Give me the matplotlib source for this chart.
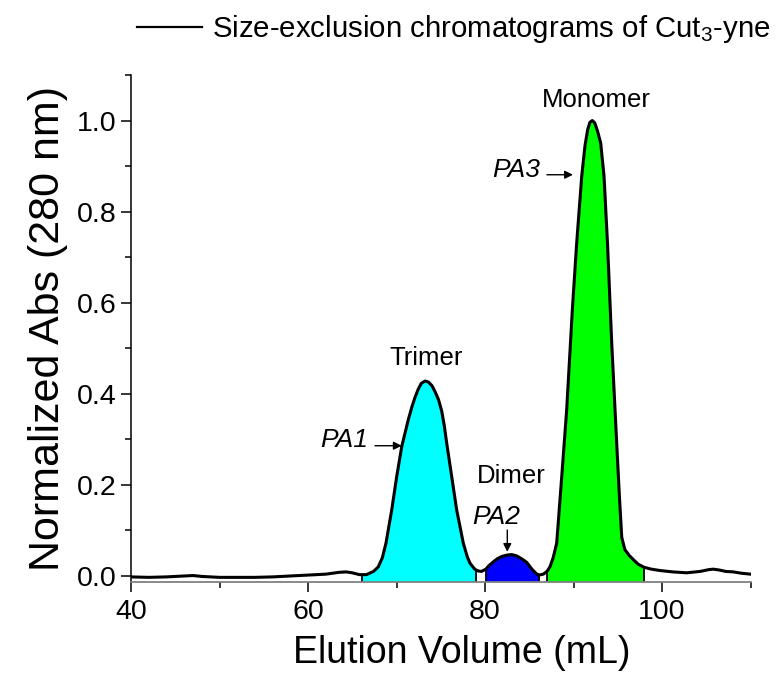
import numpy as np
import matplotlib
matplotlib.use("Agg")
import matplotlib.pyplot as plt
from matplotlib.lines import Line2D

plt.rcParams['font.family'] = ['Liberation Sans', 'DejaVu Sans']
plt.rcParams['mathtext.fontset'] = 'custom'
plt.rcParams['mathtext.rm'] = 'Liberation Sans'
plt.rcParams['mathtext.it'] = 'Liberation Sans:italic'

# Elution volume (mL) and normalized absorbance
volume = [40, 42, 44, 46, 47, 48, 50, 52, 54, 56, 58, 60, 62, 63.5, 64.3, 65.0,
          65.8, 66.1, 66.6, 67.4, 67.94, 68.4, 68.81, 69.46, 70.02, 70.59, 71.33,
          71.75, 72.09, 72.45, 72.8, 73.22, 73.6, 74.0, 74.35, 74.75, 75.11,
          75.4, 75.67, 76.24, 76.8, 77.55, 78.0, 78.31, 78.8, 79.0, 79.24, 79.6,
          80.1, 80.4, 80.94, 81.4, 81.9, 82.5, 83.02, 83.6, 84.2, 84.71, 85.3,
          85.8, 86.1, 86.59, 87.0, 87.34, 87.7, 88.1, 88.67, 89.23, 89.87, 90.36,
          90.93, 91.3, 91.6, 91.85, 92.12, 92.4, 92.7, 93.07, 93.45, 93.84,
          94.32, 94.88, 95.2, 95.45, 95.8, 96.3, 96.76, 97.3, 97.89, 98.0, 98.8,
          99.77, 101.2, 102.79, 104.3, 105.3, 105.8, 106.5, 107.2, 108.06, 109.0,
          110.0]
absorb = [-0.002, -0.003, -0.002, 0.0, 0.001, -0.001, -0.003, -0.003, -0.003,
          -0.002, 0.0, 0.002, 0.004, 0.008, 0.009, 0.007, 0.003, 0.003, 0.003,
          0.010, 0.020, 0.040, 0.072, 0.145, 0.218, 0.284, 0.343, 0.372, 0.392,
          0.410, 0.423, 0.428, 0.426, 0.418, 0.405, 0.387, 0.362, 0.330, 0.292,
          0.218, 0.145, 0.072, 0.042, 0.028, 0.016, 0.013, 0.011, 0.010, 0.015,
          0.022, 0.031, 0.038, 0.043, 0.046, 0.047, 0.044, 0.037, 0.030, 0.015,
          0.005, 0.002, 0.004, 0.010, 0.020, 0.040, 0.072, 0.218, 0.365, 0.585,
          0.731, 0.878, 0.945, 0.980, 0.996, 1.000, 0.995, 0.978, 0.951, 0.878,
          0.731, 0.511, 0.292, 0.170, 0.085, 0.058, 0.045, 0.036, 0.026, 0.020,
          0.019, 0.015, 0.012, 0.009, 0.007, 0.010, 0.014, 0.015, 0.013, 0.010,
          0.009, 0.006, 0.004]

# Integrated regions (start, end, colour)
region_start = [66.1, 80.1, 87.0]
region_end = [79.0, 86.1, 98.0]
region_color = ['#00FFFF', '#0000FF', '#00FF00']

peak_names = ['Trimer', 'Dimer', 'Monomer']
peak_name_pos = [(73.33, 0.479), (82.94, 0.22), (92.54, 1.046)]
pa_labels = ['PA1', 'PA2', 'PA3']

x = np.array(volume)
y = np.array(absorb)
ybot = -0.0132

fig = plt.figure(figsize=(7.79, 6.75), dpi=100)
ax = fig.add_axes([131/779, 1-582/675, (750.5-131)/779, (582-75)/675])

for a, b, c in zip(region_start, region_end, region_color):
    m = (x >= a) & (x <= b)
    ax.fill_between(x[m], ybot, y[m], facecolor=c, edgecolor='none', zorder=1)
    ax.vlines([a, b], ybot, [y[x == a][0], y[x == b][0]], colors='black',
              linewidth=1.3, zorder=2)

line, = ax.plot(x, y, color='black', linewidth=2.2, zorder=3,
                solid_joinstyle='round')

ax.set_xlim(40, 110)
ax.set_ylim(ybot, 1.1)
ax.set_xticks([40, 60, 80, 100])
ax.set_xticks([50, 70, 90, 110], minor=True)
ax.set_yticks([0.0, 0.2, 0.4, 0.6, 0.8, 1.0])
ax.set_yticks([0.1, 0.3, 0.5, 0.7, 0.9, 1.1], minor=True)
ax.yaxis.set_major_formatter(matplotlib.ticker.FormatStrFormatter('%.1f'))
ax.tick_params(which='major', direction='out', length=7.5, width=1.1,
               labelsize=20.5, pad=3)
ax.tick_params(which='minor', direction='out', length=4, width=1.1)
ax.tick_params(axis='x', which='major', pad=5)
for s in ['top', 'right']:
    ax.spines[s].set_visible(False)
ax.spines['left'].set_linewidth(1.1)
ax.spines['bottom'].set_linewidth(1.3)
ax.spines['bottom'].set_color('#808080')

ax.set_xlabel('Elution Volume (mL)', fontsize=27)
ax.xaxis.set_label_coords(0.534, -0.105)
ax.set_ylabel('Normalized Abs (280 nm)', fontsize=31, labelpad=6)

for name, (px, py) in zip(peak_names, peak_name_pos):
    ax.text(px, py, name, fontsize=18.5, ha='center', va='center')

arrowprops = dict(arrowstyle='-|>', color='black', lw=1.0,
                  mutation_scale=12, shrinkA=0, shrinkB=0)
ax.annotate('', xy=(70.59, 0.286), xytext=(67.57, 0.286), arrowprops=arrowprops)
ax.text(64.07, 0.299, pa_labels[0], fontsize=19, style='italic',
        ha='center', va='center')
ax.annotate('', xy=(82.52, 0.053), xytext=(82.52, 0.101), arrowprops=arrowprops)
ax.text(81.24, 0.130, pa_labels[1], fontsize=19, style='italic',
        ha='center', va='center')
ax.annotate('', xy=(89.94, 0.881), xytext=(87.0, 0.881), arrowprops=arrowprops)
ax.text(83.5, 0.892, pa_labels[2], fontsize=19, style='italic',
        ha='center', va='center')

fig.legend(handles=[Line2D([], [], color='black', linewidth=1.6)],
           labels=['Size-exclusion chromatograms of Cut$_3$-yne'],
           loc='upper left', bbox_to_anchor=(131/779, 1 - 7/675),
           frameon=False, fontsize=21.2, handlelength=2.2, handletextpad=0.35,
           borderaxespad=0, borderpad=0.2)

fig.savefig('out.png', dpi=100)
